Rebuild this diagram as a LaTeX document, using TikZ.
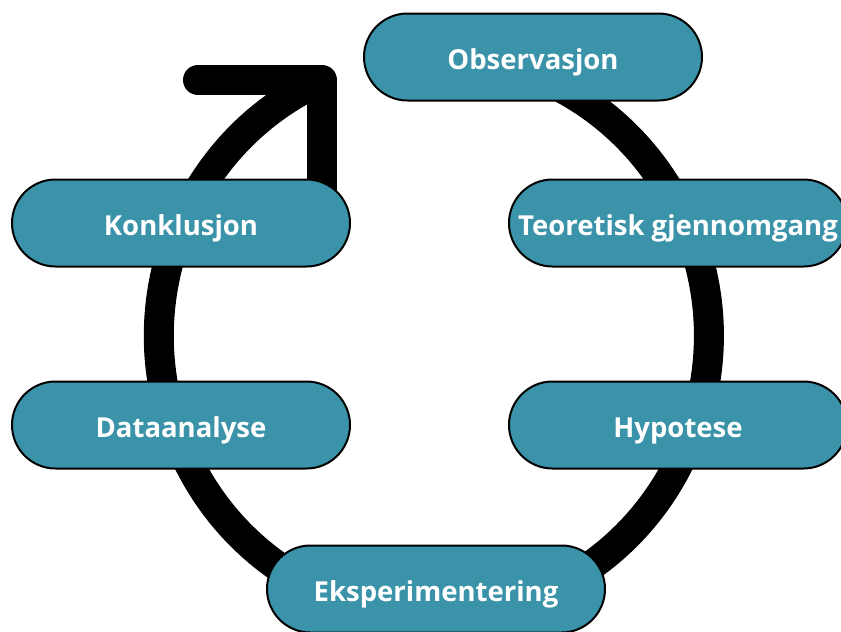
\documentclass[tikz,border=0pt]{standalone}
\usepackage{fontspec}
\setmainfont{Open Sans}
\usetikzlibrary{shapes.misc}
\definecolor{pill}{HTML}{3B93A9}
\begin{document}
\begin{tikzpicture}[x=1pt,y=-1pt,
  pillbox/.style={rounded rectangle, draw=black, line width=2pt, fill=pill,
    minimum width=338pt, minimum height=87pt, inner sep=0pt, text=white,
    text height=25pt, text depth=0pt,
    font=\fontsize{27.5}{32}\selectfont\bfseries},
  ringline/.style={line width=30pt, draw=black}]
\useasboundingbox (0,0) rectangle (841,632);
% ring
\coordinate (tip) at (322,80);
\coordinate (tail) at (198,80);
\coordinate (foot) at (322,200);
\draw[ringline] (tip) arc[start angle=246, end angle=-80, x radius=275, y radius=280];
\draw[ringline, line cap=round, line join=round] (tail) -- (tip) -- (foot);
% nodes
\node[pillbox] (obs) at (533,57) {Observasjon};
\node[pillbox] (teo) at (678,223) {Teoretisk gjennomgang};
\node[pillbox] (hyp) at (678,425) {Hypotese};
\node[pillbox] (eks) at (436,589) {Eksperimentering};
\node[pillbox] (dat) at (181,425) {Dataanalyse};
\node[pillbox] (kon) at (181,223) {Konklusjon};
\end{tikzpicture}
\end{document}
